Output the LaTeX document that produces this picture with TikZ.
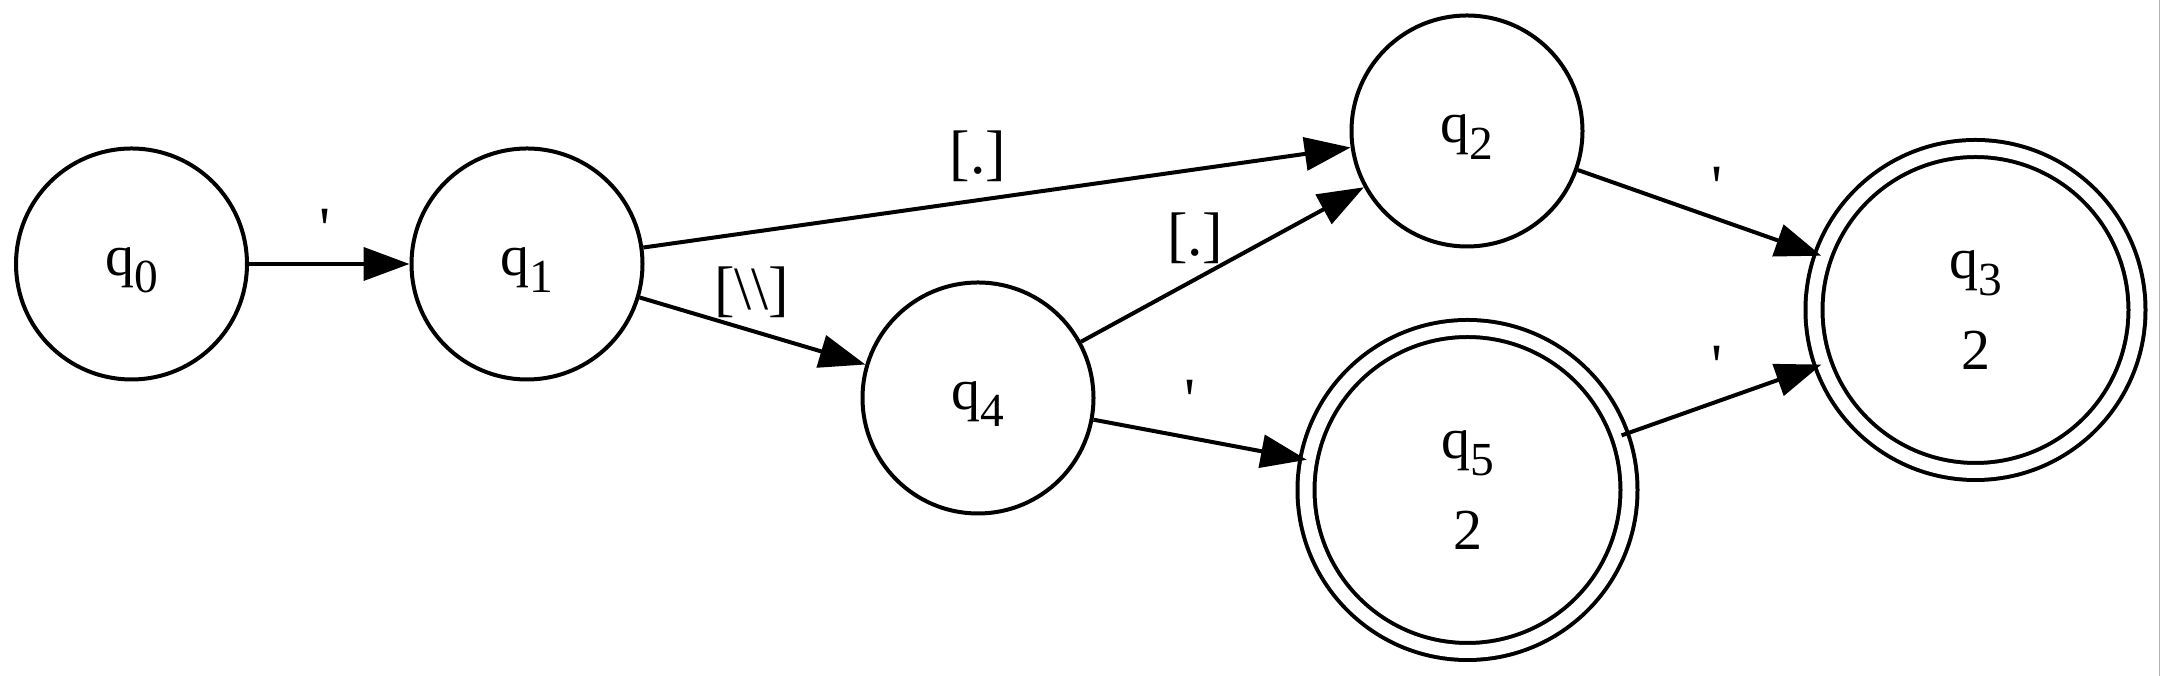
\documentclass[tikz,border=0pt]{standalone}
\usepackage{fontspec}
\setmainfont{Liberation Serif}
\usetikzlibrary{arrows.meta}
\newcommand{\qsub}[1]{q\raisebox{-0.17cm}{\fontsize{13.5}{13.5}\selectfont #1}}

\begin{document}
\begin{tikzpicture}[
	st/.style={circle,draw,line width=0.04cm,minimum size=2.31cm,inner sep=0pt,font=\fontsize{16.5}{19}\selectfont,text height=0.42cm,text depth=0.18cm},
	acc/.style={circle,draw,line width=0.04cm,double,double distance=0.13cm,minimum size=3.23cm,inner sep=0pt,align=center,font=\fontsize{16.5}{26}\selectfont},
	lbl/.style={inner sep=0pt,font=\fontsize{17.5}{20}\selectfont},
	tr/.style={line width=0.04cm,-{Triangle[length=0.46cm,width=0.33cm]}}
	]
	\useasboundingbox (0,0) rectangle (21.61,6.76);

		\node[st]  (Q0) at (1.315,4.12) {\qsub{0}};
		\node[st]  (Q1) at (5.27,4.12) {\qsub{1}};
		\node[st]  (Q2) at (14.67,5.45) {\qsub{2}};
		\node[st]  (Q4) at (9.78,2.78) {\qsub{4}};
		\node[acc] (Q5) at (14.675,1.86) {\qsub{5}\\2};
		\node[acc] (Q3) at (19.755,3.66) {\qsub{3}\\2};

		\draw[tr] (Q0) -- (Q1);
		\draw[tr] (Q1) -- (Q2);
		\draw[tr] (Q1) -- (Q4);
		\draw[tr] (Q4) -- (Q2);
		\draw[tr] (Q4) -- (Q5);
		\draw[tr] (Q2) -- (Q3);
		\draw[tr] (Q5) -- (Q3);

		\node[lbl] (L01) at (3.25,4.47) {\textquotesingle};
		\node[lbl] (L12) at (9.78,5.20) {[.]};
		\node[lbl] (L14) at (7.517,3.835) {[\textbackslash\textbackslash]};
		\node[lbl] (L42) at (11.953,4.373) {[.]};
		\node[lbl] (L45) at (11.90,2.76) {\textquotesingle};
		\node[lbl] (L23) at (17.17,4.89) {\textquotesingle};
		\node[lbl] (L53) at (17.17,3.10) {\textquotesingle};

		\draw[gray!60,line width=0.01cm] (21.595,0) -- (21.595,6.76);
\end{tikzpicture}
\end{document}
